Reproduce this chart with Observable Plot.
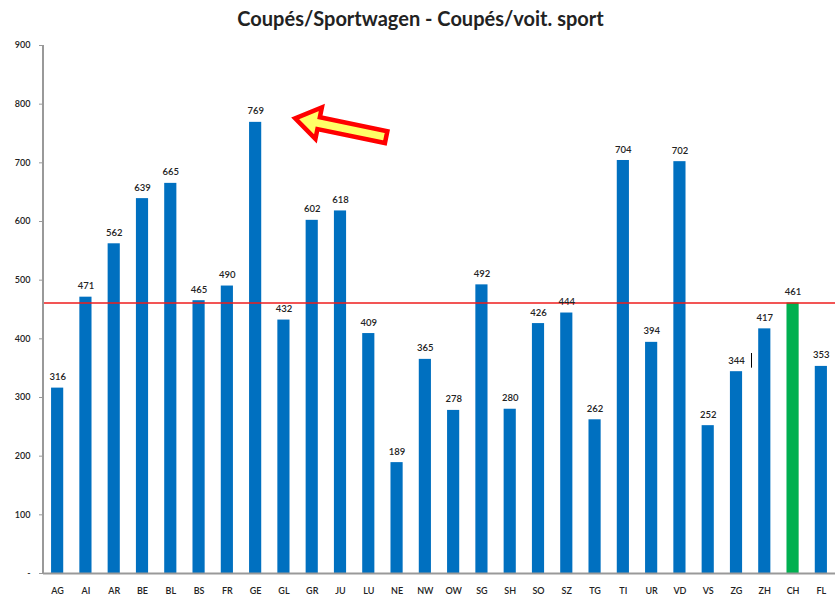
<!DOCTYPE html>
<html>
<head>
<meta charset="utf-8">
<script src="https://cdn.jsdelivr.net/npm/d3@7"></script>
<script src="https://cdn.jsdelivr.net/npm/@observablehq/plot@0.6"></script>
<style>
  html, body { margin: 0; padding: 0; background: #fff; }
  #title { width: 835px; height: 36px; line-height: 37px; text-align: center; padding-left: 6px; box-sizing: border-box;
    font-family: Lato, "Open Sans", sans-serif; font-weight: bold; font-size: 20px; color: #222; }
</style>
</head>
<body>
<div id="title">Coupés/Sportwagen - Coupés/voit. sport</div>
<div id="chart"></div>
<script>
const cantons = ["AG","AI","AR","BE","BL","BS","FR","GE","GL","GR","JU","LU","NE","NW","OW","SG","SH","SO","SZ","TG","TI","UR","VD","VS","ZG","ZH","CH","FL"];
const values  = [316,471,562,639,665,465,490,769,432,602,618,409,189,365,278,492,280,426,444,262,704,394,702,252,344,417,461,353];
const yTicks = [0,100,200,300,400,500,600,700,800,900];
const average = 461;
const highlight = "GE";

const data = cantons.map((c, i) => ({canton: c, value: values[i]}));

// block arrow pointing at the highlighted bar label
const arrowMark = (index, scales, vals, dims) => {
  const x0 = scales.x(highlight) + scales.x.bandwidth() / 2;
  const tip = [x0 + 40, scales.y(775)];
  const tail = [x0 + 131, scales.y(743)];
  const dx = tail[0] - tip[0], dy = tail[1] - tip[1];
  const L = Math.hypot(dx, dy), ux = dx / L, uy = dy / L, vx = -uy, vy = ux;
  const pt = (u, v) => [tip[0] + ux * u + vx * v, tip[1] + uy * u + vy * v];
  const hl = 24, hw = 16, sw = 6;
  const pts = [pt(0,0), pt(hl,-hw), pt(hl,-sw), pt(L,-sw), pt(L,sw), pt(hl,sw), pt(hl,hw)];
  return d3.create("svg:polygon")
    .attr("points", pts.map(p => p.join(",")).join(" "))
    .attr("fill", "#ffff66")
    .attr("stroke", "#ff0000")
    .attr("stroke-width", 4.5)
    .attr("stroke-linejoin", "miter")
    .node();
};

// vertical axis domain line
const yAxisLine = (index, scales, vals, dims) => {
  const x = dims.marginLeft;
  return d3.create("svg:line")
    .attr("x1", x).attr("x2", x)
    .attr("y1", scales.y(900)).attr("y2", scales.y(0))
    .attr("stroke", "#999").attr("stroke-width", 2)
    .node();
};

const chart = Plot.plot({
  width: 835,
  height: 564,
  marginLeft: 43,
  marginRight: 0,
  marginTop: 9,
  marginBottom: 27,
  style: {fontFamily: "Lato, 'Open Sans', sans-serif", fontSize: "9px", color: "#222", background: "#fff"},
  x: {domain: cantons, paddingInner: 0.57, paddingOuter: 0.285, round: false, label: null},
  y: {domain: [0, 900], label: null},
  marks: [
    Plot.barY(data, {x: "canton", y: "value", fill: d => d.canton === "CH" ? "#00b050" : "#0070c0"}),
    Plot.ruleY([average], {stroke: "#ee1c1c", strokeWidth: 1.5}),
    Plot.text(data, {x: "canton", y: "value", text: d => String(d.value), dy: -11, fontSize: 9.5, fill: "#222", fontWeight: 600}),
    Plot.axisY({ticks: yTicks, tickSize: 4, tickPadding: 9, tickFormat: d => d === 0 ? "-" : String(d), stroke: "#999", fontWeight: 600, label: null}),
    Plot.axisX({tickSize: 0, tickPadding: 14, fontWeight: 600, label: null}),
    Plot.ruleY([0], {stroke: "#999", strokeWidth: 2}),
    yAxisLine,
    Plot.ruleX(["ZG"], {y1: 350, y2: 375, dx: 15, stroke: "#000", strokeWidth: 1}),
    arrowMark
  ]
});
document.getElementById("chart").appendChild(chart);
</script>
</body>
</html>
